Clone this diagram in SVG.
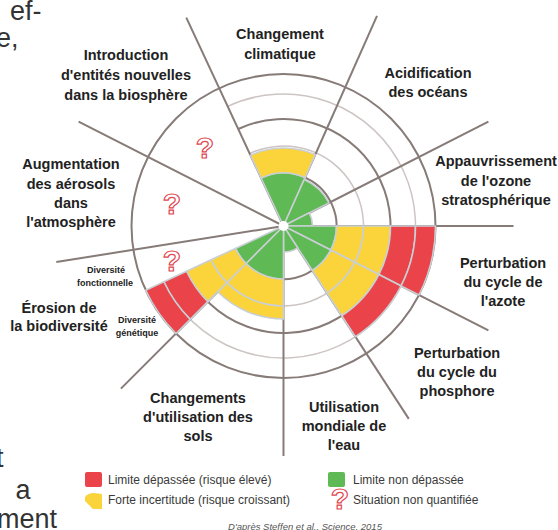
<svg xmlns="http://www.w3.org/2000/svg" width="558" height="530" viewBox="0 0 558 530">
<style>
.lbl{font-family:"Liberation Sans",Arial,sans-serif;font-weight:bold;font-size:14.5px;fill:#222;text-anchor:middle}
.sm{font-family:"Liberation Sans",Arial,sans-serif;font-weight:bold;font-size:9px;fill:#222;text-anchor:middle}
.leg{font-family:"Liberation Sans",Arial,sans-serif;font-size:12px;fill:#3a3a3a}
.page{font-family:"Liberation Sans",Arial,sans-serif;font-size:27px;fill:#333}
.cred{font-family:"Liberation Sans",Arial,sans-serif;font-style:italic;font-size:9.5px;fill:#555;text-anchor:middle}
.q{font-family:"Liberation Sans",Arial,sans-serif;font-weight:bold;font-size:30px;fill:#fff;stroke:#e0474f;stroke-width:1.2;text-anchor:middle}
.dark{fill:none;stroke:#877b78;stroke-width:2}
.light{fill:none;stroke:#cdc5c3;stroke-width:1.5}
.g{fill:#5fb955}.y{fill:#fbd33b}.r{fill:#ea4349}
.band path{stroke:#c9cfd4;stroke-width:1.6;stroke-linejoin:round}
</style>
<rect width="558" height="530" fill="#fff"/>

<g id="page-text">
<text class="page" x="10" y="20">ef-</text>
<text class="page" x="-4" y="47">e,</text>
<text class="page" x="-4" y="467">t</text>
<text class="page" x="15.5" y="499">a</text>
<text class="page" x="-3" y="528" font-size="26">ment</text>
</g>

<g id="grid">
<circle class="dark" cx="283.5" cy="226" r="152"/>
<path class="dark" d="M261.10,177.97 A53,53 0 1 1 235.47,248.40"/>
<path class="light" d="M249.69,153.50 A80,80 0 1 1 211.0,259.81"/>
<path class="dark" d="M238.28,129.03 A107,107 0 1 1 186.53,271.22"/>
<path class="light" d="M227.72,106.37 A132,132 0 1 1 163.87,281.78"/>
</g>

<g id="connectors" class="dark">
<line x1="283.5" y1="226" x2="186.3" y2="17.6"/>
<line x1="283.5" y1="226" x2="377.0" y2="15.9"/>
<line x1="283.5" y1="226" x2="488.4" y2="121.6"/>
<line x1="283.5" y1="226" x2="513.5" y2="226"/>
<line x1="283.5" y1="226" x2="488.4" y2="330.4"/>
<line x1="283.5" y1="226" x2="408.8" y2="418.9"/>
<line x1="283.5" y1="226" x2="283.5" y2="456"/>
<line x1="283.5" y1="226" x2="120.9" y2="388.6"/>
<line x1="283.5" y1="226" x2="56.3" y2="262.0"/>
<line x1="283.5" y1="226" x2="78.6" y2="121.6"/>
</g>

<g id="sector-climat" class="band">
<path class="g" d="M283.5,226 L261.10,177.97 A53,53 0 0 1 305.06,177.58 Z"/>
<path class="y" d="M261.10,177.97 L250.54,155.31 A78,78 0 0 1 315.22,154.75 L305.06,177.58 A53,53 0 0 0 261.10,177.97 Z"/>
</g>
<g id="sector-acidification" class="band">
<path class="g" d="M283.5,226 L304.24,179.41 A51,51 0 0 1 328.94,202.85 Z"/>
</g>
<g id="sector-ozone" class="band">
<path class="g" d="M283.5,226 L309.34,212.83 A29,29 0 0 1 312.5,226 Z"/>
</g>
<g id="sector-azote" class="band">
<path class="g" d="M283.5,226 L336.5,226 A53,53 0 0 1 330.72,250.06 Z"/>
<path class="y" d="M336.5,226 L363.5,226 A80,80 0 0 1 354.78,262.32 L330.72,250.06 A53,53 0 0 0 336.5,226 Z"/>
<path class="y" d="M363.5,226 L390.5,226 A107,107 0 0 1 378.84,274.58 L354.78,262.32 A80,80 0 0 0 363.5,226 Z"/>
<path class="r" d="M390.5,226 L415.5,226 A132,132 0 0 1 401.11,285.93 L378.84,274.58 A107,107 0 0 0 390.5,226 Z"/>
<path class="r" d="M415.5,226 L435.5,226 A152,152 0 0 1 418.93,295.01 L401.11,285.93 A132,132 0 0 0 415.5,226 Z"/>
</g>
<g id="sector-phosphore" class="band">
<path class="g" d="M283.5,226 L330.72,250.06 A53,53 0 0 1 312.36,270.45 Z"/>
<path class="y" d="M330.72,250.06 L354.78,262.32 A80,80 0 0 1 327.07,293.10 L312.36,270.45 A53,53 0 0 0 330.72,250.06 Z"/>
<path class="y" d="M354.78,262.32 L378.84,274.58 A107,107 0 0 1 341.77,315.74 L327.07,293.10 A80,80 0 0 0 354.78,262.32 Z"/>
<path class="r" d="M378.84,274.58 L401.11,285.93 A132,132 0 0 1 355.39,336.71 L341.77,315.74 A107,107 0 0 0 378.84,274.58 Z"/>
</g>
<g id="sector-eau" class="band">
<path class="g" d="M283.5,226 L297.66,247.81 A26,26 0 0 1 283.5,252 Z"/>
</g>
<g id="sector-sols" class="band">
<path class="g" d="M283.5,226 L283.5,279 A53,53 0 0 1 246.02,263.48 Z"/>
<path class="y" d="M283.5,279 L283.5,306 A80,80 0 0 1 226.93,282.57 L246.02,263.48 A53,53 0 0 0 283.5,279 Z"/>
<path class="y" d="M283.5,306 L283.5,319 A93,93 0 0 1 217.74,291.76 L226.93,282.57 A80,80 0 0 0 283.5,306 Z"/>
</g>
<g id="sector-biodiversite" class="band">
<path class="g" d="M283.5,226 L246.02,263.48 A53,53 0 0 1 235.47,248.40 Z"/>
<path class="y" d="M246.02,263.48 L226.93,282.57 A80,80 0 0 1 211.0,259.81 L235.47,248.40 A53,53 0 0 0 246.02,263.48 Z"/>
<path class="y" d="M226.93,282.57 L207.84,301.66 A107,107 0 0 1 186.53,271.22 L211.0,259.81 A80,80 0 0 0 226.93,282.57 Z"/>
<path class="r" d="M207.84,301.66 L190.16,319.34 A132,132 0 0 1 163.87,281.78 L186.53,271.22 A107,107 0 0 0 207.84,301.66 Z"/>
<path class="r" d="M190.16,319.34 L176.02,333.48 A152,152 0 0 1 145.74,290.24 L163.87,281.78 A132,132 0 0 0 190.16,319.34 Z"/>
</g>
<circle cx="283.5" cy="226" r="5" fill="#fff"/>

<g id="unquantified">
<text class="q" x="205" y="158">?</text>
<text class="q" x="172" y="214">?</text>
<text class="q" x="172" y="271">?</text>
</g>

<g id="label-climat"><text class="lbl" x="280" y="39">Changement</text><text class="lbl" x="280" y="59">climatique</text></g>
<g id="label-introduction"><text class="lbl" x="126" y="60">Introduction</text><text class="lbl" x="126" y="80">d'entités nouvelles</text><text class="lbl" x="126" y="100">dans la biosphère</text></g>
<g id="label-acidification"><text class="lbl" x="428" y="78">Acidification</text><text class="lbl" x="428" y="97">des océans</text></g>
<g id="label-ozone"><text class="lbl" x="496" y="166">Appauvrissement</text><text class="lbl" x="496" y="186">de l'ozone</text><text class="lbl" x="496" y="205">stratosphérique</text></g>
<g id="label-azote"><text class="lbl" x="503" y="268">Perturbation</text><text class="lbl" x="503" y="287">du cycle de</text><text class="lbl" x="503" y="306">l'azote</text></g>
<g id="label-phosphore"><text class="lbl" x="457" y="358">Perturbation</text><text class="lbl" x="457" y="377">du cycle du</text><text class="lbl" x="457" y="396">phosphore</text></g>
<g id="label-eau"><text class="lbl" x="344" y="412">Utilisation</text><text class="lbl" x="344" y="431">mondiale de</text><text class="lbl" x="344" y="450">l'eau</text></g>
<g id="label-sols"><text class="lbl" x="198" y="403">Changements</text><text class="lbl" x="198" y="422">d'utilisation des</text><text class="lbl" x="198" y="441">sols</text></g>
<g id="label-biodiversite"><text class="lbl" x="59" y="313">Érosion de</text><text class="lbl" x="59" y="331">la biodiversité</text></g>
<g id="label-aerosols"><text class="lbl" x="71" y="169">Augmentation</text><text class="lbl" x="71" y="189">des aérosols</text><text class="lbl" x="71" y="208">dans</text><text class="lbl" x="71" y="227">l'atmosphère</text></g>
<g id="label-fonctionnelle"><text class="sm" x="106" y="273">Diversité</text><text class="sm" x="105" y="286">fonctionnelle</text></g>
<g id="label-genetique"><text class="sm" x="137" y="323">Diversité</text><text class="sm" x="137" y="336">génétique</text></g>

<g id="legend">
<rect x="85" y="472" width="17" height="15" rx="2" fill="#ea4349"/>
<text class="leg" x="108" y="484">Limite dépassée (risque élevé)</text>
<path d="M85,497 Q88,493 94,493 L102,494 L102,509 L93,509 L85,501 Z" fill="#fbd33b"/>
<text class="leg" x="108" y="504">Forte incertitude (risque croissant)</text>
<rect x="328" y="472" width="17" height="15" rx="2" fill="#5fb955"/>
<text class="leg" x="353" y="484">Limite non dépassée</text>
<text class="q" x="340" y="509" font-size="22" stroke-width="1">?</text>
<text class="leg" x="353" y="504">Situation non quantifiée</text>
<text class="cred" x="305" y="530">D'après Steffen et al., Science, 2015</text>
</g>
</svg>
